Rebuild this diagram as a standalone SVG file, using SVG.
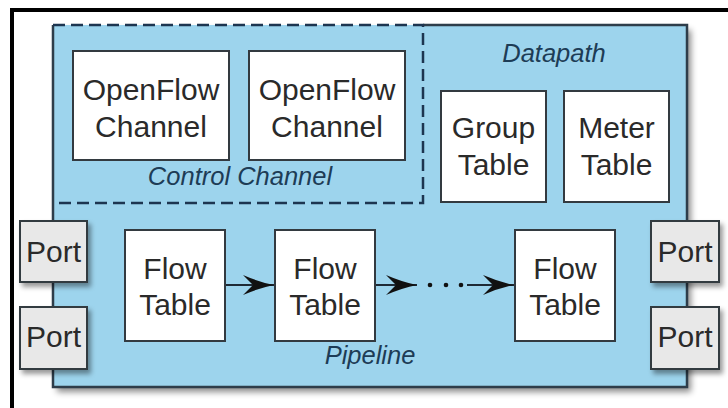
<svg xmlns="http://www.w3.org/2000/svg" width="728" height="408" viewBox="0 0 728 408">
  <defs>
    <filter id="shadow" x="-10%" y="-10%" width="130%" height="130%">
      <feDropShadow dx="4" dy="5" stdDeviation="3" flood-color="#000" flood-opacity="0.45"/>
    </filter>
    <filter id="portShadow" x="-20%" y="-20%" width="150%" height="150%">
      <feDropShadow dx="3" dy="4" stdDeviation="2.5" flood-color="#000" flood-opacity="0.4"/>
    </filter>
    <marker id="head" markerUnits="userSpaceOnUse" markerWidth="34" markerHeight="22" viewBox="-32 -11 34 22" refX="0" refY="0" orient="auto">
      <path d="M0,0 Q-15,-3 -31,-10 L-21,0 L-31,10 Q-15,3 0,0 Z" fill="#111"/>
    </marker>
    <style>
      .box { fill: #ffffff; stroke: #333a40; stroke-width: 2; }
      .port { fill: #e8e8e8; stroke: #333a40; stroke-width: 2; }
      .label { font-family: "Liberation Sans", Arial, sans-serif; font-size: 30px; fill: #2a2a2a; text-anchor: middle; }
      .area { font-family: "Liberation Sans", Arial, sans-serif; font-size: 25.5px; font-style: italic; fill: #1d3c56; text-anchor: middle; }
      .link { stroke: #1e2a36; stroke-width: 2; fill: none; }
    </style>
  </defs>

  <rect width="728" height="408" fill="#ffffff"/>

  <!-- outer frame (top and left edges) -->
  <path d="M12,410 V10 H730" fill="none" stroke="#000" stroke-width="4"/>

  <!-- switch body -->
  <g id="switch">
    <rect x="53" y="25" width="634" height="362" fill="#9dd4ed" filter="url(#shadow)"/>
    <path d="M423,25 H687 V387 H53 V25" fill="none" stroke="#2e3d4a" stroke-width="2.5"/>
    <text class="area" x="554" y="62">Datapath</text>
  </g>

  <!-- control channel region -->
  <g id="control-channel">
    <path d="M53,25 H423 V203 H53" fill="none" stroke="#1d3550" stroke-width="2.5" stroke-dasharray="12 6"/>
    <text class="area" x="240" y="185">Control Channel</text>
  </g>

  <g id="openflow-channel-1">
    <rect class="box" x="73" y="51" width="156" height="109"/>
    <text class="label" x="151" y="100">OpenFlow</text>
    <text class="label" x="151" y="137">Channel</text>
  </g>
  <g id="openflow-channel-2">
    <rect class="box" x="249" y="51" width="156" height="109"/>
    <text class="label" x="327" y="100">OpenFlow</text>
    <text class="label" x="327" y="137">Channel</text>
  </g>

  <g id="group-table">
    <rect class="box" x="441" y="91" width="105" height="111"/>
    <text class="label" x="493.5" y="138">Group</text>
    <text class="label" x="493.5" y="175">Table</text>
  </g>
  <g id="meter-table">
    <rect class="box" x="564" y="91" width="105" height="111"/>
    <text class="label" x="616.5" y="138">Meter</text>
    <text class="label" x="616.5" y="175">Table</text>
  </g>

  <!-- ports -->
  <g id="port-left-1">
    <rect class="port" x="20" y="221" width="67" height="61" filter="url(#portShadow)"/>
    <text class="label" x="53.5" y="262">Port</text>
  </g>
  <g id="port-left-2">
    <rect class="port" x="20" y="307" width="67" height="62" filter="url(#portShadow)"/>
    <text class="label" x="53.5" y="347">Port</text>
  </g>
  <g id="port-right-1">
    <rect class="port" x="651" y="221" width="68" height="61" filter="url(#portShadow)"/>
    <text class="label" x="685" y="262">Port</text>
  </g>
  <g id="port-right-2">
    <rect class="port" x="651" y="307" width="68" height="62" filter="url(#portShadow)"/>
    <text class="label" x="685" y="347">Port</text>
  </g>

  <!-- pipeline of flow tables -->
  <g id="flow-table-1">
    <rect class="box" x="125" y="230" width="100" height="111"/>
    <text class="label" x="175" y="279">Flow</text>
    <text class="label" x="175" y="315">Table</text>
  </g>
  <g id="flow-table-2">
    <rect class="box" x="275" y="230" width="100" height="111"/>
    <text class="label" x="325" y="279">Flow</text>
    <text class="label" x="325" y="315">Table</text>
  </g>
  <g id="flow-table-n">
    <rect class="box" x="515" y="230" width="100" height="111"/>
    <text class="label" x="565" y="279">Flow</text>
    <text class="label" x="565" y="315">Table</text>
  </g>
  <text class="area" x="370" y="364">Pipeline</text>

  <!-- connectors -->
  <g id="connectors">
    <line class="link" x1="226" y1="285" x2="274" y2="285" marker-end="url(#head)"/>
    <line class="link" x1="376" y1="285" x2="417" y2="285" marker-end="url(#head)"/>
    <circle cx="430" cy="285" r="2.3" fill="#111"/>
    <circle cx="446" cy="285" r="2.3" fill="#111"/>
    <circle cx="461" cy="285" r="2.3" fill="#111"/>
    <line class="link" x1="467" y1="285" x2="514" y2="285" marker-end="url(#head)"/>
  </g>
</svg>
